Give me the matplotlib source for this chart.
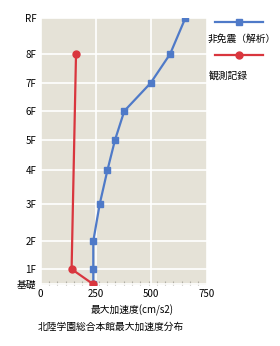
import matplotlib
matplotlib.use("Agg")
import matplotlib.pyplot as plt
from matplotlib.ticker import MultipleLocator
from matplotlib.lines import Line2D

plt.rcParams["font.family"] = ["Noto Sans CJK JP", "DejaVu Sans"]

# floors and their drawn heights (relative)
floors = ["基礎", "1F", "2F", "3F", "4F", "5F", "6F", "7F", "8F", "RF"]
heights = [0, 15, 43, 80, 114, 144, 173, 201, 230, 266]

# max acceleration (cm/s2)
analysis = [238, 238, 238, 267, 302, 336, 378, 497, 585, 654]
observed_floors = ["基礎", "1F", "8F"]
observed = [237, 140, 160]
observed_h = [heights[floors.index(f)] for f in observed_floors]

blue = "#4f7ac8"
red = "#d9363e"

fig = plt.figure(figsize=(2.8, 3.46), dpi=100)
ax = fig.add_axes([0.145, 0.176, 0.593, 0.772])
ax.set_facecolor("#e5e2d7")

ax.plot(analysis, heights, "-s", color=blue, lw=1.6, ms=5, zorder=3)
ax.plot(observed, observed_h, "-o", color=red, lw=1.6, ms=5, zorder=4)

ax.set_xlim(0, 750)
ax.set_ylim(-1, 266)
ax.set_xticks([0, 250, 500, 750])
ax.xaxis.set_minor_locator(MultipleLocator(37.5))
ax.set_yticks(heights)
ax.set_yticklabels(floors)
ax.tick_params(axis="both", which="major", length=0, labelsize=7, pad=3)
ax.tick_params(axis="x", which="minor", direction="in", length=3,
               color="#b0aea4", width=0.8)
ax.grid(True, which="major", color="white", lw=1.2)
ax.set_axisbelow(True)
for s in ax.spines.values():
    s.set_visible(False)

fig.text(0.471, 0.104, "最大加速度(cm/s2)", fontsize=7, ha="center", va="center")
fig.text(0.397, 0.046, "北陸学園総合本館最大加速度分布", fontsize=7, ha="center")

# legend on the right
fig.add_artist(Line2D([0.768, 0.855, 0.94], [0.936, 0.936, 0.936], color=blue,
                      lw=1.6, marker="s", ms=5, markevery=[1],
                      transform=fig.transFigure))
fig.add_artist(Line2D([0.768, 0.855, 0.94], [0.841, 0.841, 0.841], color=red,
                      lw=1.6, marker="o", ms=5, markevery=[1],
                      transform=fig.transFigure))
fig.text(0.742, 0.887, "非免震（解析）", fontsize=7, ha="left", va="center")
fig.text(0.747, 0.78, "観測記録", fontsize=7, ha="left", va="center")

fig.savefig("out.png", dpi=100)
